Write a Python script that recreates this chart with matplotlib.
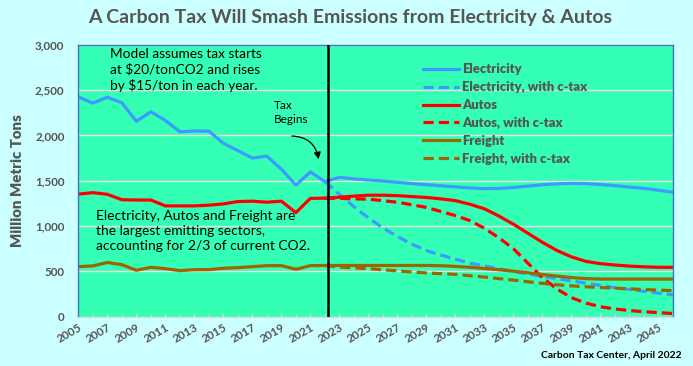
import matplotlib
matplotlib.use("Agg")
import matplotlib.pyplot as plt
from matplotlib.ticker import FuncFormatter, MultipleLocator

plt.rcParams['font.family'] = ['Lato', 'DejaVu Sans']

years = list(range(2005, 2047))
proj_years = list(range(2022, 2047))

electricity = [2425, 2355, 2420, 2360, 2155, 2260, 2165, 2040, 2048, 2047, 1912, 1832,
               1750, 1770, 1627, 1452, 1597, 1490, 1537, 1520, 1508, 1497, 1482, 1468,
               1456, 1444, 1432, 1420, 1412, 1415, 1425, 1440, 1455, 1465, 1470, 1468,
               1458, 1445, 1430, 1415, 1395, 1372]
electricity_ctax = [1490, 1350, 1215, 1090, 980, 885, 800, 730, 680, 635, 590, 560,
                    530, 500, 470, 445, 420, 395, 370, 345, 320, 300, 280, 260, 240]
autos = [1352, 1368, 1350, 1290, 1287, 1287, 1222, 1222, 1222, 1230, 1244, 1270,
         1274, 1263, 1274, 1148, 1305, 1307, 1318, 1330, 1340, 1340, 1335, 1325,
         1315, 1300, 1280, 1240, 1190, 1110, 1020, 920, 820, 730, 660, 610,
         585, 570, 558, 550, 545, 545]
autos_ctax = [1307, 1305, 1300, 1296, 1280, 1262, 1235, 1205, 1160, 1115, 1060, 975,
              870, 750, 590, 430, 305, 210, 150, 110, 85, 68, 55, 45, 35]
freight = [552, 560, 598, 574, 512, 545, 530, 508, 519, 519, 534, 541,
           552, 563, 563, 523, 563, 565, 565, 565, 565, 565, 565, 565,
           565, 562, 555, 545, 532, 518, 502, 485, 465, 448, 432, 420,
           415, 415, 415, 415, 415, 415]
freight_ctax = [565, 548, 538, 530, 518, 505, 493, 482, 474, 467, 452, 437,
                420, 403, 385, 368, 352, 340, 330, 322, 315, 307, 300, 293, 287]

series_labels = ["Electricity", "Electricity, with c-tax", "Autos", "Autos, with c-tax",
                 "Freight", "Freight, with c-tax"]
tax_start = 2022.2

C_ELEC = "#3D9BFF"
C_AUTO = "#FF0000"
C_FRT = "#9C6500"
GRAY = "#555555"

W, H = 693, 366
fig = plt.figure(figsize=(W / 100, H / 100), dpi=100, facecolor="#CCFFFF")
ax = fig.add_axes([78.3 / W, 1 - 316.7 / H, (673 - 78.3) / W, (316.7 - 44.7) / H])
ax.set_facecolor("#33FFB5")

lw = 2.3
dash = (3.2, 1.6)
ax.plot(years, electricity, color=C_ELEC, lw=lw, label=series_labels[0], solid_joinstyle='round')
ax.plot(proj_years, electricity_ctax, color=C_ELEC, lw=lw, dashes=dash, label=series_labels[1])
ax.plot(years, autos, color=C_AUTO, lw=lw, label=series_labels[2], solid_joinstyle='round')
ax.plot(proj_years, autos_ctax, color=C_AUTO, lw=lw, dashes=dash, label=series_labels[3])
ax.plot(years, freight, color=C_FRT, lw=lw, label=series_labels[4], solid_joinstyle='round')
ax.plot(proj_years, freight_ctax, color=C_FRT, lw=lw, dashes=dash, label=series_labels[5])

ax.axvline(tax_start, color="black", lw=1.8, zorder=5)

ax.set_xlim(years[0], years[-1])
ax.set_ylim(0, 3000)
ax.yaxis.set_major_locator(MultipleLocator(500))
ax.yaxis.set_major_formatter(FuncFormatter(lambda v, p: f"{int(v):,}"))
ax.grid(axis='y', color="#F2DCE0", lw=1.0, zorder=0)
ax.set_axisbelow(True)

ax.set_xticks(years[::2])
ax.set_xticklabels([str(y) for y in years[::2]], rotation=30, ha='right',
                   rotation_mode='anchor', fontsize=8.4, fontweight='bold', color=GRAY)
ax.set_xticks(years, minor=True)
ax.tick_params(axis='x', which='both', direction='in', length=3, color="#D9D9D9", pad=4)
ax.tick_params(axis='y', length=0, pad=10, labelsize=8.4, labelcolor=GRAY)
for t in ax.get_yticklabels():
    t.set_fontweight('bold')

for s in ['left', 'top', 'right']:
    ax.spines[s].set_color("#4472C4")
    ax.spines[s].set_linewidth(1.0)
ax.spines['bottom'].set_color("#D9D9D9")

ax.set_ylabel("Million Metric Tons", fontsize=10.8, fontweight='heavy', color=GRAY, labelpad=8)

fig.text(350 / W, 1 - 18 / H, "A Carbon Tax Will Smash Emissions from Electricity & Autos",
         ha='center', va='center', fontsize=14, fontweight='bold', color=GRAY)

leg = ax.legend(loc='upper left', bbox_to_anchor=(418 / W, 1 - 58 / H),
                bbox_transform=fig.transFigure, frameon=False, handlelength=2.75,
                handletextpad=0.2, labelspacing=0.45, borderaxespad=0,
                prop={'weight': 'heavy', 'size': 9.4})
for t in leg.get_texts():
    t.set_color(GRAY)

ax.text(110 / W, 1 - 48 / H, "Model assumes tax starts\nat $20/tonCO2 and rises\nby $15/ton in each year.",
        transform=fig.transFigure, ha='left', va='top', fontsize=9.8, linespacing=1.28, color="black")
ax.text(96 / W, 1 - 210 / H, "Electricity, Autos and Freight are\nthe largest emitting sectors,\naccounting for 2/3 of current CO2.",
        transform=fig.transFigure, ha='left', va='top', fontsize=10.0, linespacing=1.3, color="black")
ax.text(274 / W, 1 - 100 / H, "Tax\nBegins", transform=fig.transFigure, ha='left', va='top',
        fontsize=8.5, linespacing=1.35, color="black")
ax.annotate("", xy=(319 / W, 1 - 162 / H), xytext=(289 / W, 1 - 136 / H),
            xycoords='figure fraction', textcoords='figure fraction',
            arrowprops=dict(arrowstyle='-|>', color='black', lw=0.9,
                            connectionstyle='arc3,rad=-0.45', mutation_scale=10))

fig.text(682 / W, 1 - 356 / H, "Carbon Tax Center, April 2022", ha='right', va='center',
         fontsize=7.5, fontweight='bold', color="black")

fig.savefig("out.png", dpi=100, facecolor=fig.get_facecolor())
